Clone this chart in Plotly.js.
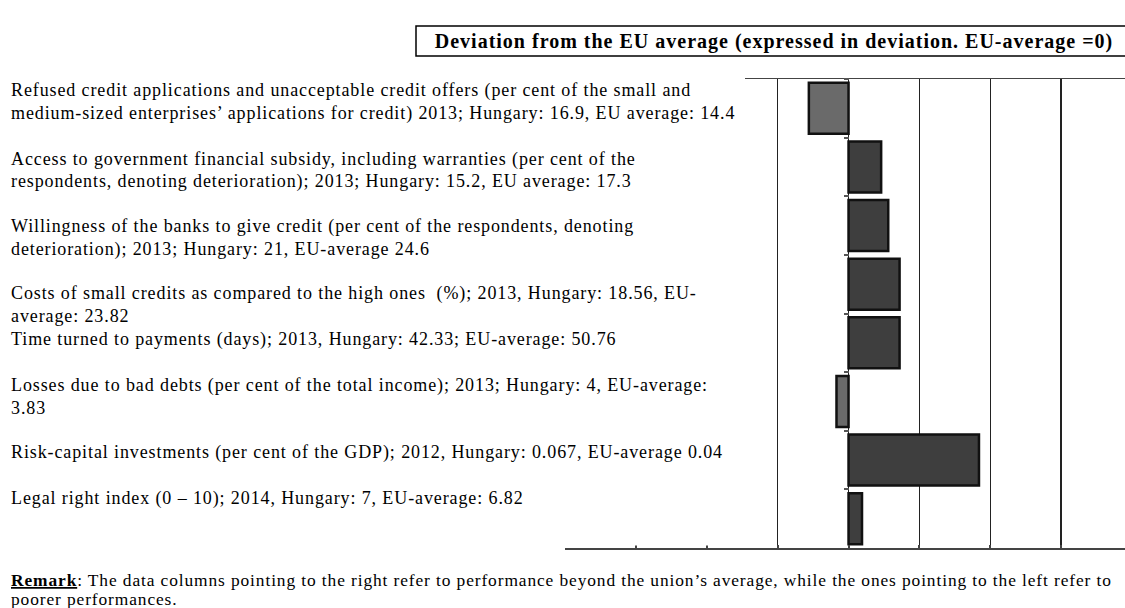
<!DOCTYPE html>
<html>
<head>
<meta charset="utf-8">
<script src="https://cdn.plot.ly/plotly-3.0.1.min.js"></script>
<style>
html,body{margin:0;padding:0;background:#fff;}
#chart{width:1125px;height:608px;}
#chart .annotation-text{letter-spacing:0.89px;}
#chart .gtitle{letter-spacing:1px;}
</style>
</head>
<body>
<div id="chart"></div>
<script>
// ---- data ----
const categories = ["Refused credit", "Gov. subsidy access", "Bank willingness", "Small credit costs",
  "Time to payments", "Bad debt losses", "Risk-capital", "Legal right index"];
// deviation from EU average (grid units; EU average = 0)
const deviation = [-0.56, 0.46, 0.56, 0.72, 0.72, -0.17, 1.84, 0.19];
const labelLines = [
  ["Refused credit applications and unacceptable credit offers (per cent of the small and",
   "medium-sized enterprises\u2019 applications for credit) 2013; Hungary: 16.9, EU average: 14.4"],
  ["Access to government financial subsidy, including warranties (per cent of the",
   "respondents, denoting deterioration); 2013; Hungary: 15.2, EU average: 17.3"],
  ["Willingness of the banks to give credit (per cent of the respondents, denoting",
   "deterioration); 2013; Hungary: 21, EU-average 24.6"],
  ["Costs of small credits as compared to the high ones  (%); 2013, Hungary: 18.56, EU-",
   "average: 23.82"],
  ["Time turned to payments (days); 2013, Hungary: 42.33; EU-average: 50.76"],
  ["Losses due to bad debts (per cent of the total income); 2013; Hungary: 4, EU-average:",
   "3.83"],
  ["Risk-capital investments (per cent of the GDP); 2012, Hungary: 0.067, EU-average 0.04"],
  ["Legal right index (0 \u2013 10); 2014, Hungary: 7, EU-average: 6.82"]
];
const titleText = "Deviation from the EU average (expressed in deviation. EU-average =0)";
const remarkLines = [
  "<u><b>Remark</b></u>: The data columns pointing to the right refer to performance beyond the union\u2019s average, while the ones pointing to the left refer to",
  "poorer performances."
];
const xTicks = [-4, -3, -2, -1, 0, 1, 2, 3];

// ---- layout helpers ----
const W = 1125, H = 608;
const PL = 565, PR = 1125, PT = 79, PB = 548;
const xRange = [-4, 3.9];
const px = x => (x - PL) / (PR - PL);
const py = y => (PB - y) / (PB - PT);
const FONT = "Liberation Serif, Times New Roman, serif";
const FS = 18;
const FS_REMARK = 17.4;

const paraTop = [90.7, 159, 226.7, 293, 339, 385, 452, 498];
const lineStep = 22.6;

const annotations = [];
labelLines.forEach((lines, i) => {
  lines.forEach((t, j) => {
    annotations.push({
      text: t, xref: 'paper', yref: 'paper', x: px(9), y: py(paraTop[i] + j * lineStep),
      xanchor: 'left', yanchor: 'middle', showarrow: false, align: 'left',
      font: {family: FONT, size: FS, color: '#000'}
    });
  });
});
remarkLines.forEach((t, j) => {
  annotations.push({
    text: t, xref: 'paper', yref: 'paper', x: px(9), y: py(580 + j * 19),
    xanchor: 'left', yanchor: 'middle', showarrow: false, align: 'left',
    font: {family: FONT, size: FS_REMARK, color: '#000'}
  });
});

const colors = deviation.map(v => v < 0 ? '#6a6a6a' : '#3e3e3e');

const trace = {
  type: 'bar', orientation: 'h',
  y: categories, x: deviation,
  marker: {color: colors, line: {color: '#111', width: 2.5}},
  hoverinfo: 'x+y'
};

const zeroPos = (0 - xRange[0]) / (xRange[1] - xRange[0]);

const layout = {
  width: W, height: H,
  margin: {l: PL, r: W - PR, t: PT, b: H - PB, pad: 0},
  paper_bgcolor: '#fff', plot_bgcolor: '#fff',
  showlegend: false,
  bargap: 0.13,
  title: {
    text: '<b>' + titleText + '</b>',
    font: {family: FONT, size: 20, color: '#000'},
    xref: 'container', yref: 'container',
    x: 774 / W, xanchor: 'center', y: 1 - 41 / H, yanchor: 'middle'
  },
  xaxis: {
    range: xRange, tickvals: xTicks, showticklabels: false,
    showgrid: true, gridcolor: '#222', gridwidth: 1.5,
    zeroline: true, zerolinecolor: '#222', zerolinewidth: 1.5,
    showline: true, linecolor: '#444', linewidth: 1.5, mirror: true,
    ticks: 'inside', ticklen: 3, tickcolor: '#444', tickwidth: 2,
    fixedrange: true
  },
  yaxis: {
    type: 'category', autorange: 'reversed',
    anchor: 'free', position: zeroPos,
    showticklabels: false, showgrid: false, zeroline: false, showline: false,
    ticks: 'outside', tickson: 'boundaries', ticklen: 5, tickcolor: '#555', tickwidth: 2,
    fixedrange: true
  },
  shapes: [
    // white panel under the label text (hides left part of grid and top border)
    {type: 'rect', xref: 'paper', yref: 'paper', x0: px(-5), x1: px(745), y0: py(545.5), y1: py(68),
     fillcolor: '#fff', line: {width: 0}, layer: 'above'},
    // title frame
    {type: 'rect', xref: 'paper', yref: 'paper', x0: px(416), x1: px(1140), y0: py(56), y1: py(26),
     fillcolor: 'rgba(0,0,0,0)', line: {color: '#000', width: 1.5}, layer: 'above'}
  ],
  annotations: annotations
};

Plotly.newPlot('chart', [trace], layout, {displayModeBar: false, staticPlot: true});
</script>
</body>
</html>
